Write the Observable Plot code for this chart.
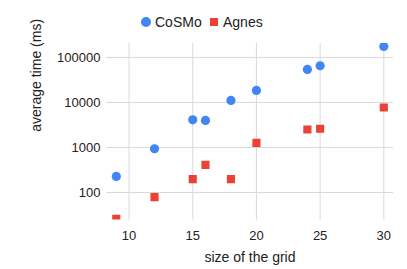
<!DOCTYPE html>
<html><head><meta charset="utf-8">
<script src="https://cdn.jsdelivr.net/npm/d3@7"></script>
<script src="https://cdn.jsdelivr.net/npm/@observablehq/plot@0.6"></script>
<style>
body{margin:0;background:#fff;font-family:"Liberation Sans",Arial,sans-serif;}
#wrap{position:relative;width:407px;height:269px;}
#legend{position:absolute;top:11.5px;left:0;width:407px;height:20px;font-size:14px;color:#222;}
.li{position:absolute;top:0;line-height:20px;}
.sw{position:absolute;}
</style></head>
<body><div id="wrap"><div id="legend"></div></div>
<script>
const gridSizes = [9, 12, 15, 16, 18, 20, 24, 25, 30];
const cosmoTimes = [227, 936, 4120, 3980, 11070, 18500, 54100, 65300, 175000];
const agnesTimes = [26, 79, 198, 412, 198, 1270, 2510, 2600, 7740];
const seriesNames = ["CoSMo", "Agnes"];
const seriesColors = ["#4285F4", "#EA4335"];
const seriesSymbols = ["circle", "square"];
const xTicks = [10, 15, 20, 25, 30];
const yTicks = [100, 1000, 10000, 100000];

const rows = [];
gridSizes.forEach((g, i) => {
  rows.push({size: g, time: cosmoTimes[i], series: seriesNames[0]});
  rows.push({size: g, time: agnesTimes[i], series: seriesNames[1]});
});

const plot = Plot.plot({
  width: 407, height: 269,
  marginLeft: 106, marginRight: 14, marginTop: 43, marginBottom: 49.5,
  style: {fontFamily: '"Liberation Sans", Arial, sans-serif', fontSize: "13px", color: "#222", background: "#fff"},
  x: {domain: [8.23, 30.76]},
  y: {type: "log", domain: [24.5, 204000]},
  color: {domain: seriesNames, range: seriesColors},
  symbol: {domain: seriesNames, range: seriesSymbols},
  marks: [
    Plot.gridX(xTicks, {stroke: "#d9d9d9", strokeOpacity: 1}),
    Plot.gridY(yTicks, {stroke: "#d9d9d9", strokeOpacity: 1}),
    Plot.axisX(xTicks, {tickSize: 0, tickPadding: 11, fontSize: 13, label: null}),
    Plot.axisY(yTicks, {tickSize: 0, tickPadding: 6, fontSize: 13, label: null, tickFormat: d => String(d)}),
    Plot.text(["size of the grid"], {frameAnchor: "bottom", lineAnchor: "middle", dy: 38, fontSize: 14, fill: "#222"}),
    Plot.text(["average time (ms)"], {frameAnchor: "left", dx: -70, rotate: -90, fontSize: 14, fill: "#222"}),
    Plot.dot(rows, {x: "size", y: "time", fill: "series", symbol: "series", r: 4.6, clip: "frame"})
  ]
});
document.getElementById("wrap").appendChild(plot);

const leg = document.getElementById("legend");
const lx = [141, 209];
seriesNames.forEach((n, i) => {
  const sw = document.createElement("div");
  sw.className = "sw";
  if (i === 0) {
    sw.style.cssText = `left:${lx[i]}px;top:5px;width:10px;height:10px;border-radius:50%;background:${seriesColors[i]}`;
  } else {
    sw.style.cssText = `left:${lx[i]+1}px;top:6px;width:8px;height:8px;background:${seriesColors[i]}`;
  }
  leg.appendChild(sw);
  const t = document.createElement("div");
  t.className = "li";
  t.style.left = (lx[i] + 14) + "px";
  t.textContent = n;
  leg.appendChild(t);
});
</script></body></html>
